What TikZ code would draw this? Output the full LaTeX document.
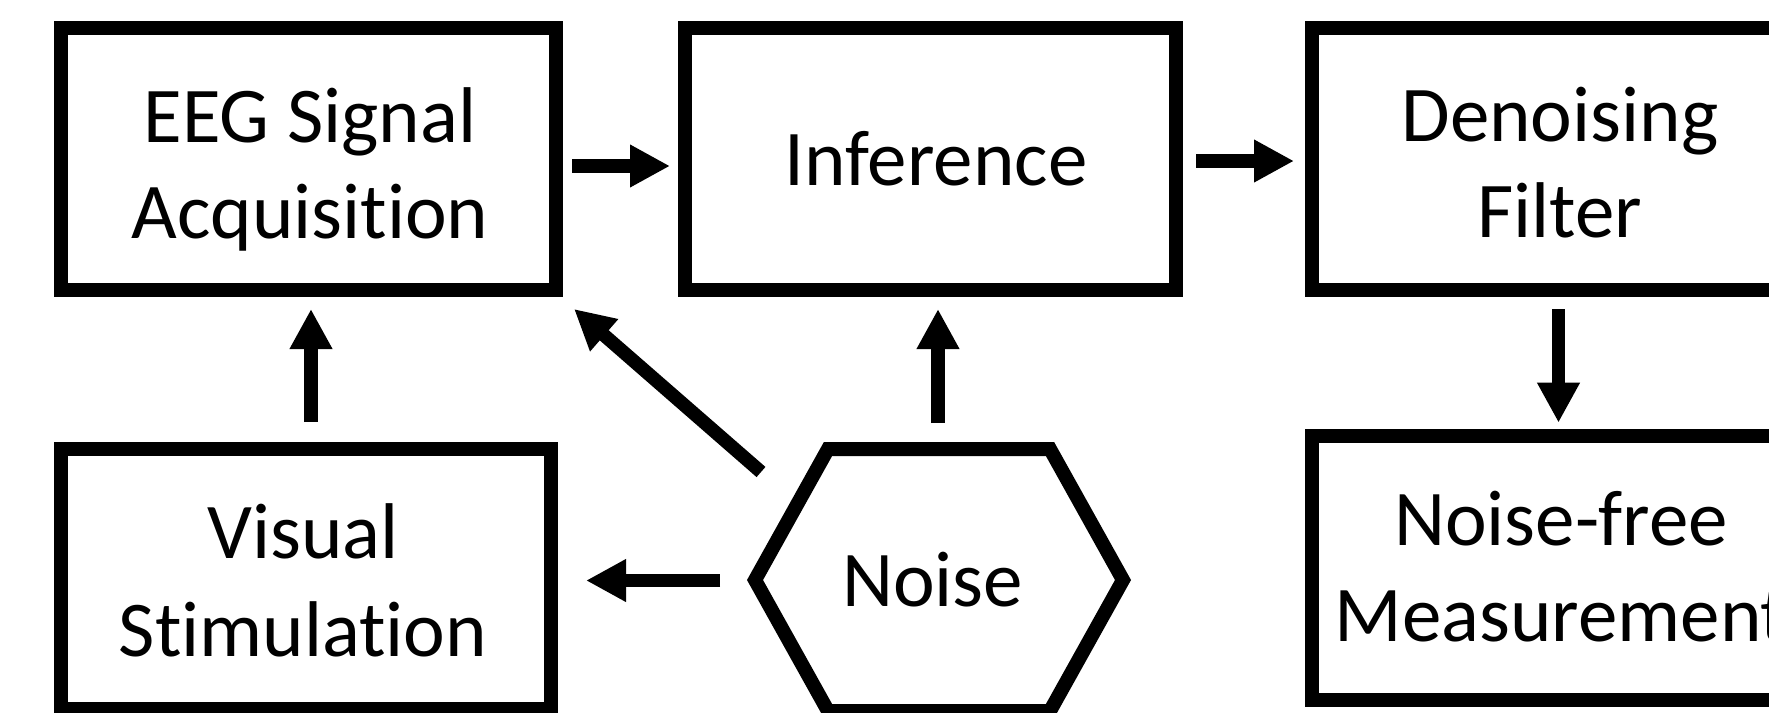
\documentclass[tikz,border=0pt]{standalone}
\usepackage{fontspec}
\setmainfont{Carlito}[Ligatures={NoCommon}]
\usetikzlibrary{arrows.meta,calc}
\tikzset{
  boxnode/.style={draw=black, line width=14pt, inner sep=0pt, minimum width=491pt, minimum height=262pt},
  lbl/.style={font=\fontsize{79pt}{96pt}\selectfont, align=center, inner sep=0pt, anchor=base},
  arr/.style={line width=13.5pt, -{Triangle[length=40pt,width=40pt]}},
  hexline/.style={line width=14pt, line join=miter}
}
\begin{document}
\begin{tikzpicture}[x=1pt,y=-1pt]
\useasboundingbox (0,0) rectangle (1769,712);
\fill[white] (0,0) rectangle (1769,712);
\clip (0,0) rectangle (1769,712);
% boxes
\node[boxnode, minimum width=494.7pt] (eeg) at (308.4,159) {};
\node[boxnode] (inf) at (930.5,159) {};
\node[boxnode, minimum width=490pt] (den) at (1557,159) {};
\node[boxnode, minimum width=490pt, minimum height=260pt] (vis) at (306,579) {};
\node[boxnode, minimum height=264pt] (nf) at (1557.5,568) {};
% hexagon
\node[inner sep=0pt, outer sep=0pt, minimum width=368pt, minimum height=262pt] (noise) at (939,580) {};
\draw[hexline] (noise.west) -- ($(noise.north west)+(73,0)$) -- ($(noise.north east)+(-73,0)$)
  -- (noise.east) -- ($(noise.south east)+(-73,0)$) -- ($(noise.south west)+(73,0)$) -- cycle;
% labels (anchored at the baseline of the last line)
\node[lbl] (eegT) at (310,238) {EEG Signal\\Acquisition};
\node[lbl] (infT) at (936,185) {Inference};
\node[lbl] (denT) at (1560,237) {Denoising\\Filter};
\node[lbl, font=\fontsize{79pt}{98pt}\selectfont] (visT) at (303,656) {Visual\\Stimulation};
\node[lbl] (nfT) at (1561,641) {Noise-free\\Measurement};
\node[lbl] (noiseT) at (932.5,606) {Noise};
% connectors
\draw[arr] ([xshift=9.5pt,yshift=-7pt]eeg.east) -- ([xshift=-8pt,yshift=-7pt]inf.west);
\draw[arr] ([xshift=13pt,yshift=-2pt]inf.east) -- ([xshift=-11pt,yshift=-2pt]den.west);
\draw[arr] ([xshift=5pt,yshift=20pt]vis.north) -- ([xshift=2.6pt,yshift=-12pt]eeg.south);
\draw[arr] ([xshift=-1pt,yshift=26pt]noise.north) -- ([xshift=7.5pt,yshift=-12pt]inf.south);
\draw[arr] ([xshift=6pt,yshift=-23pt]noise.north west) -- ([xshift=11.3pt,yshift=-12pt]eeg.south east);
\draw[arr] ([xshift=-35pt,yshift=-0.5pt]noise.west) -- ([xshift=28pt,yshift=-1.5pt]vis.east);
\draw[arr] ([xshift=1.5pt,yshift=-12pt]den.south) -- ([xshift=1pt,yshift=6.3pt]nf.north);
\end{tikzpicture}
\end{document}
